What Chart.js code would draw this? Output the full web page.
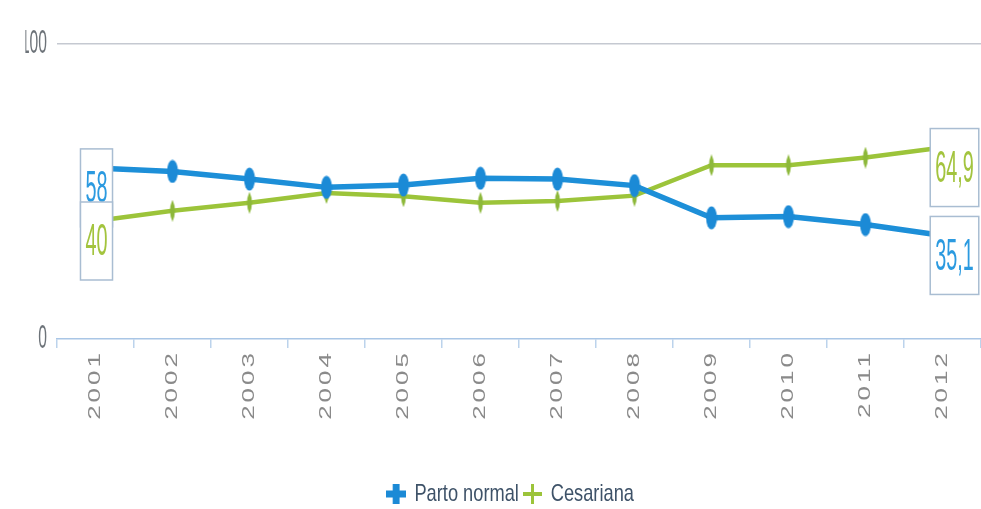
<!DOCTYPE html>
<html>
<head>
<meta charset="utf-8">
<script src="https://cdn.jsdelivr.net/npm/chart.js@4.4.1/dist/chart.umd.min.js"></script>
<style>
  html, body { margin: 0; padding: 0; background: #fff; overflow: hidden; }
</style>
</head>
<body>
<canvas id="myChart" width="981" height="509"></canvas>
<script>
var years = ['2001', '2002', '2003', '2004', '2005', '2006', '2007', '2008', '2009', '2010', '2011', '2012'];
var partoNormal = [58, 56.8, 54.2, 51.4, 52.2, 54.5, 54.2, 52, 41.1, 41.5, 38.8, 35.1];
var cesariana = [40, 43.5, 46.2, 49.5, 48.4, 46.2, 46.8, 48.6, 58.9, 58.9, 61.5, 64.9];
var yTicks = [0, 100];

var textFont = "'Liberation Sans', Arial, sans-serif";

// small offscreen canvases used as point and legend markers
function makeMark(w, h, paint) {
  var c = document.createElement('canvas');
  c.width = w;
  c.height = h;
  paint(c.getContext('2d'), w, h);
  return c;
}

var blueDot = makeMark(12, 24, function(g, w, h) {
  g.fillStyle = '#1b8ad6';
  g.beginPath();
  g.ellipse(w / 2, h / 2, w / 2 - 0.5, h / 2 - 0.5, 0, 0, Math.PI * 2);
  g.fill();
});
var greenDot = makeMark(10, 22, function(g, w, h) {
  g.fillStyle = '#8db83a';
  g.beginPath();
  g.moveTo(w / 2, 0);
  g.quadraticCurveTo(w, h / 2, w / 2, h);
  g.quadraticCurveTo(0, h / 2, w / 2, 0);
  g.fill();
});
var bluePlus = makeMark(26, 20, function(g, w, h) {
  g.fillStyle = '#1b8ad6';
  g.fillRect(8.5, 0, 9, h);
  g.fillRect(0, 6.5, w, 7);
});
var greenPlus = makeMark(26, 20, function(g, w, h) {
  g.fillStyle = '#9cc43a';
  g.fillRect(11, 0, 4, h);
  g.fillRect(0, 8, w, 4);
});

// narrow lettering for the axis labels and the legend
var squashText = {
  id: 'squashText',
  beforeDraw: function(chart) {
    var y = chart.scales.y, x = chart.scales.x, legend = chart.legend;
    if (!y._squashed) {
      var yDraw = y.drawLabels;
      y.drawLabels = function(area) {
        var ctx = this.ctx, xr = this.right - this.options.ticks.padding;
        ctx.save();
        ctx.translate(xr, 0);
        ctx.scale(0.46, 1);
        ctx.translate(-xr, 0);
        yDraw.call(this, area);
        ctx.restore();
      };
      y._squashed = true;
    }
    if (!x._squashed) {
      // year labels: laid out by the scale, drawn in a larger spaced face
      x.drawLabels = function(area) {
        var ctx = this.ctx, sy = 0.62;
        this.getLabelItems(area).forEach(function(item) {
          var o = item.options;
          ctx.save();
          ctx.translate(o.translation[0], o.translation[1]);
          ctx.rotate(o.rotation);
          ctx.scale(1, sy);
          ctx.font = '26px ' + textFont;
          ctx.fillStyle = o.color;
          ctx.textAlign = o.textAlign;
          ctx.textBaseline = o.textBaseline;
          ctx.letterSpacing = '3px';
          ctx.fillText(item.label, 0, item.textOffset / sy);
          ctx.restore();
        });
      };
      x._squashed = true;
    }
    if (legend && !legend._squashed) {
      var lDraw = legend.draw;
      legend.draw = function() {
        var ctx = this.ctx, cx = (this.left + this.right) / 2;
        ctx.save();
        ctx.translate(cx + 20, 7);
        ctx.scale(0.76, 1);
        ctx.translate(-cx, 0);
        lDraw.apply(this, arguments);
        ctx.restore();
      };
      legend._squashed = true;
    }
  }
};

// boxed values at the first and last year of each series
var valueBoxes = {
  id: 'valueBoxes',
  afterDatasetsDraw: function(chart) {
    var ctx = chart.ctx;
    var last = years.length - 1;
    var spots = [[0, 0], [1, 0], [0, last], [1, last]];
    spots.forEach(function(s) {
      var ds = chart.data.datasets[s[0]];
      var p = chart.getDatasetMeta(s[0]).data[s[1]];
      var text = String(ds.data[s[1]]).replace('.', ',');
      var sx = 0.45, h = 78;
      ctx.save();
      ctx.font = '44px ' + textFont;
      var w = ctx.measureText(text).width * sx + 10;
      var cx = s[1] === 0 ? p.x + 1 : p.x + 12;
      var top = p.y - 19;
      ctx.fillStyle = '#ffffff';
      ctx.fillRect(cx - w / 2, top, w, h);
      ctx.strokeStyle = '#a9bdd2';
      ctx.lineWidth = 1.5;
      ctx.strokeRect(cx - w / 2, top, w, h);
      ctx.translate(cx, top + h / 2);
      ctx.scale(sx, 1);
      ctx.fillStyle = ds.labelColor;
      ctx.textAlign = 'center';
      ctx.textBaseline = 'middle';
      ctx.fillText(text, 0, 2);
      ctx.restore();
    });
  }
};

var ctx = document.getElementById('myChart').getContext('2d');
var myChart = new Chart(ctx, {
  type: 'line',
  data: {
    labels: years,
    datasets: [
      {
        label: 'Parto normal',
        data: partoNormal,
        borderColor: '#1d8fd8',
        backgroundColor: '#1d8fd8',
        borderWidth: 5.5,
        pointStyle: blueDot,
        pointRadius: 6,
        tension: 0,
        labelColor: '#2b9ae0'
      },
      {
        label: 'Cesariana',
        data: cesariana,
        borderColor: '#9cc43a',
        backgroundColor: '#9cc43a',
        borderWidth: 4.5,
        pointStyle: greenDot,
        pointRadius: 6,
        tension: 0,
        labelColor: '#a3c43e'
      }
    ]
  },
  options: {
    responsive: false,
    animation: false,
    events: [],
    layout: { autoPadding: false, padding: { top: 44, right: 0, left: 0, bottom: 0 } },
    plugins: {
      tooltip: { enabled: false },
      legend: {
        position: 'bottom',
        labels: {
          usePointStyle: true,
          boxWidth: 36,
          boxHeight: 24,
          padding: 6,
          color: '#3e5268',
          font: { family: textFont, size: 24 },
          generateLabels: function(chart) {
            var items = Chart.defaults.plugins.legend.labels.generateLabels(chart);
            var marks = [bluePlus, greenPlus];
            items.forEach(function(it, i) { it.pointStyle = marks[i]; });
            return items;
          }
        }
      }
    },
    scales: {
      x: {
        offset: true,
        afterFit: function(s) {
          s.height = 130;
          s.paddingLeft = 0;
          s.paddingRight = 0;
        },
        grid: { drawOnChartArea: false, drawTicks: true, tickLength: 9, color: '#bcd3ec', lineWidth: 1.5, offset: true },
        border: { display: true, color: '#a9c6e6', width: 1.5, dash: [3, 2] },
        ticks: { minRotation: 90, maxRotation: 90, autoSkip: false, padding: 2, color: '#8a8a8a', font: { family: textFont, size: 8 } }
      },
      y: {
        min: 0,
        max: 100,
        afterBuildTicks: function(s) { s.ticks = yTicks.map(function(v) { return { value: v }; }); },
        afterFit: function(s) { s.width = 57; },
        grid: {
          drawTicks: false,
          lineWidth: 1.5,
          color: function(c) { return c.tick && c.tick.value === 100 ? '#c5c9d1' : 'rgba(0,0,0,0)'; }
        },
        border: { display: false },
        ticks: { padding: 10, color: '#6d7379', font: { family: textFont, size: 34 } }
      }
    }
  },
  plugins: [squashText, valueBoxes]
});
</script>
</body>
</html>
